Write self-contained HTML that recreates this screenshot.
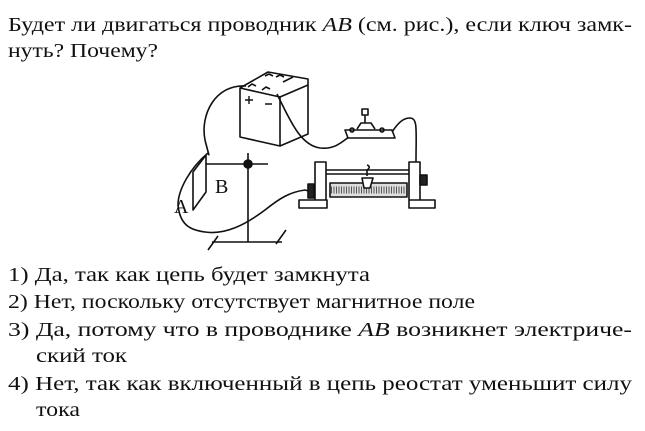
<!DOCTYPE html>
<html><head><meta charset="utf-8"><style>
html,body{margin:0;padding:0;background:#fff;}
svg{display:block}
text{font-family:"Liberation Serif","DejaVu Serif",serif;font-size:20px;fill:#111}
</style></head><body>
<svg width="645" height="431" viewBox="0 0 645 431" xmlns="http://www.w3.org/2000/svg">
<text x="8" y="31" textLength="624" lengthAdjust="spacingAndGlyphs">Будет ли двигаться проводник <tspan font-style="italic">AB</tspan> (см. рис.), если ключ замк-</text>
<text x="8" y="57" textLength="150" lengthAdjust="spacingAndGlyphs">нуть? Почему?</text>

<g fill="none" stroke="#111" stroke-width="1.6" stroke-linejoin="round">
<path d="M240 88 L280 97 L280 146 L240 137 Z" fill="#fff"/>
<path d="M280 97 L308 85 L308 134 L280 146"/>
<path d="M240 88 L268 72 L308 79 L308 85"/>
<path d="M248 87 l4-3 4 2 M262 90 l4-3 4 2 M265 76 l4-2 4 2 M276 77 l4-2 4 2 M283 82 L293 77"/>
<path d="M245 100 h8 M249 96 v8 M265 104 h7" stroke-width="1.4"/>
<path d="M246 86 C215 84 200 115 205 140 C208 152 210 158 208 153 C190 168 178 190 178 205 C180 225 190 230 205 232 C225 235 245 225 265 210 C280 198 290 192 305 190 L312 192"/>
<path d="M277 94 C290 120 300 145 320 148 C338 150 345 138 355 133"/>
<path d="M345 130 L392 130 L395 138 L348 138 Z" fill="#fff"/>
<path d="M357 129 l4-6 h10 l4 6 M365 123 v-8 M362 115 h6 v-6 h-6 z"/>
<circle cx="352" cy="130" r="2"/><circle cx="382" cy="130" r="2"/>
<path d="M392 132 C400 120 405 118 410 118 C418 118 416 130 416 162"/>
<path d="M315 162 h11 v38 h-11 z M299 200 h28 v8 h-28 z" fill="#fff"/>
<path d="M409 162 h11 v38 h-11 z M409 200 h26 v8 h-26 z" fill="#fff"/>
<path d="M326 170 L409 170 M326 174 L409 174"/>
<path d="M330 183 h77 v14 h-77 z" fill="#ddd"/>
<path d="M331 190 h75" stroke-dasharray="1 1.5" stroke-width="7" stroke="#555"/>
<path d="M362 178 l2 10 h6 l3-10 z M367 176 v-6 c3-2 3-4 0-5" fill="#fff"/>
<path d="M420 175 h7 v10 h-7 z M308 184 h6 v14 h-6 z" fill="#222"/>
<path d="M205 164 L246 164 M246 164 L268 164 M248 153 L248 242 M212 242 L282 242 M218 236 L208 250 M286 230 L276 244"/>
<circle cx="248" cy="164" r="4" fill="#111"/>
<path d="M193 172 L206 155 L206 192 L193 210 Z" fill="#fff"/>
</g>
<text x="215" y="193" font-size="15">B</text>
<text x="174" y="213" font-size="15">A</text>

<text x="8" y="281" textLength="362" lengthAdjust="spacingAndGlyphs">1) Да, так как цепь будет замкнута</text>
<text x="8" y="308" textLength="467" lengthAdjust="spacingAndGlyphs">2) Нет, поскольку отсутствует магнитное поле</text>
<text x="8" y="336" textLength="624" lengthAdjust="spacingAndGlyphs">3) Да,  потому  что  в  проводнике  <tspan font-style="italic">AB</tspan>  возникнет  электриче-</text>
<text x="36" y="362" textLength="91" lengthAdjust="spacingAndGlyphs">ский ток</text>
<text x="8" y="390" textLength="624" lengthAdjust="spacingAndGlyphs">4) Нет, так как включенный в цепь реостат уменьшит силу</text>
<text x="36" y="416" textLength="44" lengthAdjust="spacingAndGlyphs">тока</text>
</svg>
</body></html>
